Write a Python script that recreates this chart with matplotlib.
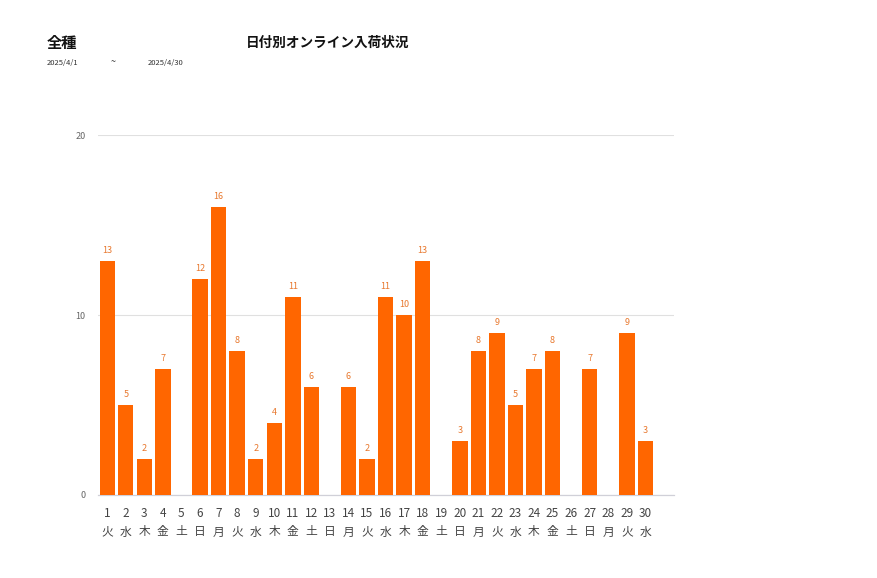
import matplotlib.pyplot as plt

plt.rcParams['font.family'] = ['Noto Sans CJK JP', 'DejaVu Sans']

# data
days = list(range(1, 31))
weekdays = ['火', '水', '木', '金', '土', '日', '月'] * 5
weekdays = weekdays[:30]
counts = [13, 5, 2, 7, 0, 12, 16, 8, 2, 4, 11, 6, 0, 6, 2,
          11, 10, 13, 0, 3, 8, 9, 5, 7, 8, 0, 7, 0, 9, 3]
yticks = [0, 10, 20]

bar_color = '#ff6600'

fig = plt.figure(figsize=(8.77, 5.78), dpi=100)
ax = fig.add_axes([0.1117, 0.1436, 0.657, 0.6228])

ax.bar(days, counts, width=0.83, color=bar_color, zorder=3)

# value labels above non-zero bars
for d, c in zip(days, counts):
    if c > 0:
        ax.annotate(str(c), (d, c), xytext=(0, 4), textcoords='offset points',
                    ha='center', va='bottom', fontsize=6.5, color='#e8782e')

ax.set_xlim(0.5, 31.55)
ax.set_ylim(0, 20)
ax.set_yticks(yticks)
ax.set_yticklabels([str(v) for v in yticks], fontsize=6.5, color='#666666')
ax.set_xticks(days)
ax.set_xticklabels([f'{d}\n{w}' for d, w in zip(days, weekdays)],
                   fontsize=8.5, color='#444444', linespacing=1.5)
ax.tick_params(axis='both', length=0)
ax.tick_params(axis='x', pad=9)
ax.tick_params(axis='y', pad=9)

ax.grid(axis='y', color='#e0e0e0', linewidth=0.8, zorder=0)
for s in ['top', 'right', 'left']:
    ax.spines[s].set_visible(False)
ax.spines['bottom'].set_color('#d0d0d8')
ax.spines['bottom'].set_linewidth(0.9)

# header texts
fig.text(47 / 877, 1 - 43 / 578, '全種', fontsize=11, fontweight='bold',
         va='center', ha='left', color='#111111')
fig.text(328 / 877, 1 - 43 / 578, '日付別オンライン入荷状況', fontsize=9.8,
         fontweight='bold', va='center', ha='center', color='#111111')
fig.text(47 / 877, 1 - 63 / 578, '2025/4/1', fontsize=5.5, va='center', ha='left', color='#333333')
fig.text(113 / 877, 1 - 62 / 578, '~', fontsize=6.5, va='center', ha='center', color='#333333')
fig.text(148 / 877, 1 - 63 / 578, '2025/4/30', fontsize=5.5, va='center', ha='left', color='#333333')

fig.savefig('out.png', dpi=100)
